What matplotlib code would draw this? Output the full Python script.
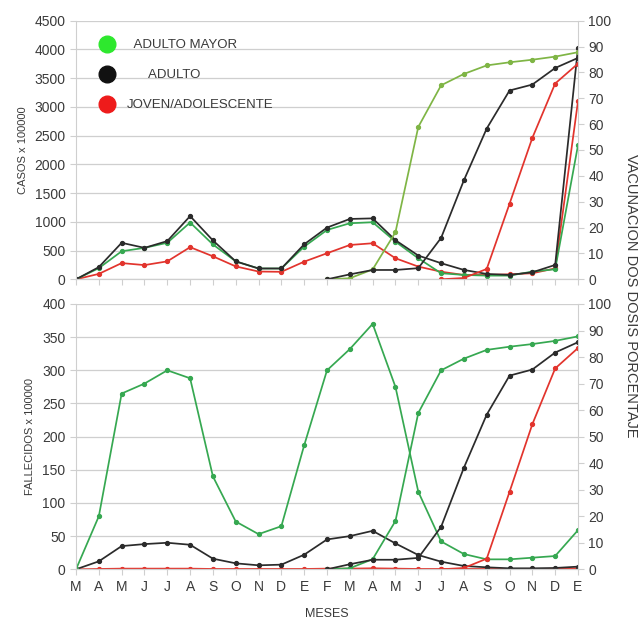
import matplotlib
matplotlib.use("Agg")
import matplotlib.pyplot as plt
from matplotlib.lines import Line2D
import numpy as np

plt.rcParams["font.family"] = ["Liberation Sans", "DejaVu Sans"]

# ---- datos
meses = ["M", "A", "M", "J", "J", "A", "S", "O", "N", "D", "E",
         "F", "M", "A", "M", "J", "J", "A", "S", "O", "N", "D", "E"]

# casos x 100000
casos_mayor = [0, 194, 488, 547, 635, 988, 606, 312, 188, 188, 568,
               858, 975, 993, 655, 366, 105, 76, 64, 64, 134, 174, 2333]
casos_adulto = [0, 212, 635, 547, 665, 1100, 676, 312, 188, 188, 609,
                900, 1050, 1060, 680, 413, 280, 163, 93, 76, 122, 250, 4030]
casos_joven = [0, 94, 282, 247, 312, 559, 400, 224, 135, 130, 307,
               453, 597, 627, 366, 221, 132, 75, 76, 87, 105, 190, 3097]

# fallecidos x 100000
fall_mayor = [0, 80, 265, 280, 300, 288, 140, 72, 53, 65, 187,
              300, 332, 370, 275, 117, 42, 23, 15, 15, 17.5, 20, 59]
fall_adulto = [0, 12, 35, 38, 40, 37, 16, 9, 6, 7, 22,
               45, 50, 58, 39, 21.5, 11.5, 5, 3, 1.5, 1.5, 2, 4]
fall_joven = [0, 0.5, 1, 1, 1, 1, 0.5, 0.5, 0.5, 0.5, 0.5,
              1, 1, 1.5, 1, 0.5, 0.5, 0.5, 0.5, 0.5, 0.5, 0.5, 1.5]

# vacunacion dos dosis (%), desde F (indice 11) y J (indice 16)
inicio_vac = 11
vac_mayor = [0, 0.4, 3.8, 18.2, 58.9, 75, 79.4, 82.7, 83.9, 84.9, 86.1, 87.8]
vac_adulto = [0, 1.9, 3.6, 3.6, 4.3, 16, 38.3, 58.3, 73, 75.3, 81.7, 85.6]
inicio_vac_joven = 16
vac_joven = [0, 0.5, 4, 29.2, 54.7, 75.7, 83.4]

# ---- colores
VERDE = "#36a851"
VERDE_CLARO = "#7fb545"
NEGRO = "#2b2b2b"
ROJO = "#e2342d"
GRIS = "#cfcfcf"
TXT = "#3a3a3a"

x = np.arange(len(meses))
x_vac = np.arange(inicio_vac, inicio_vac + len(vac_mayor))
x_vac_j = np.arange(inicio_vac_joven, inicio_vac_joven + len(vac_joven))

fig = plt.figure(figsize=(6.41, 6.19), dpi=100)
ax1 = fig.add_axes([0.1186, 0.5488, 0.7831, 0.4178])
ax2 = fig.add_axes([0.1186, 0.0803, 0.7831, 0.4286])
ax1r = ax1.twinx()
ax2r = ax2.twinx()

kw = dict(lw=1.25, marker="o", ms=2.8)


def estilo(ax, axr, ymax, paso, labels):
    ax.set_xlim(0, len(meses) - 1)
    ax.set_ylim(0, ymax)
    ax.set_yticks(np.arange(0, ymax + 1, paso))
    axr.set_ylim(0, 100)
    axr.set_yticks(np.arange(0, 101, 10))
    ax.set_xticks(x)
    if labels:
        ax.set_xticklabels(meses, fontsize=10.5, color=TXT)
    else:
        ax.set_xticklabels([])
    ax.grid(axis="y", color=GRIS, lw=0.9)
    ax.set_axisbelow(True)
    for a in (ax, axr):
        for s in a.spines.values():
            s.set_color(GRIS)
        a.spines["top"].set_visible(False)
        a.tick_params(colors=GRIS, labelcolor=TXT, labelsize=10, length=4)
    ax.spines["right"].set_visible(False)
    axr.spines["left"].set_visible(False)


estilo(ax1, ax1r, 4500, 500, False)
estilo(ax2, ax2r, 400, 50, True)

# ---- panel superior: casos
ax1.plot(x, casos_joven, color=ROJO, **kw)
ax1.plot(x, casos_mayor, color=VERDE, **kw)
ax1.plot(x, casos_adulto, color=NEGRO, **kw)
ax1r.plot(x_vac, vac_mayor, color=VERDE_CLARO, **kw)
ax1r.plot(x_vac, vac_adulto, color=NEGRO, **kw)
ax1r.plot(x_vac_j, vac_joven, color=ROJO, **kw)

# ---- panel inferior: fallecidos
ax2.plot(x, fall_joven, color=ROJO, **kw)
ax2.plot(x, fall_adulto, color=NEGRO, **kw)
ax2.plot(x, fall_mayor, color=VERDE, **kw)
ax2r.plot(x_vac, vac_mayor, color=VERDE, **kw)
ax2r.plot(x_vac, vac_adulto, color=NEGRO, **kw)
ax2r.plot(x_vac_j, vac_joven, color=ROJO, **kw)

ax1.set_ylabel("CASOS x 100000", fontsize=8, color=TXT, labelpad=5)
ax2.set_ylabel("FALLECIDOS x 100000", fontsize=8, color=TXT, labelpad=5)
ax2.set_xlabel("MESES", fontsize=9, color=TXT, labelpad=10)
fig.text(0.984, 0.522, "VACUNACION DOS DOSIS PORCENTAJE", rotation=-90,
         ha="center", va="center", fontsize=10.5, color=TXT)

# ---- leyenda
handles = [
    Line2D([], [], ls="", marker="o", ms=12, color="#2ee82e"),
    Line2D([], [], ls="", marker="o", ms=12, color="#111111"),
    Line2D([], [], ls="", marker="o", ms=12, color="#ee1b1b"),
]
etiquetas = ["  ADULTO MAYOR", "      ADULTO", "JOVEN/ADOLESCENTE"]
leg = ax1r.legend(handles, etiquetas, loc="upper left",
                  bbox_to_anchor=(0.025, 0.95), frameon=False,
                  fontsize=9.5, labelspacing=1.35, handletextpad=0.5,
                  borderaxespad=0)
for t in leg.get_texts():
    t.set_color(TXT)

fig.savefig("out.png", dpi=100)
